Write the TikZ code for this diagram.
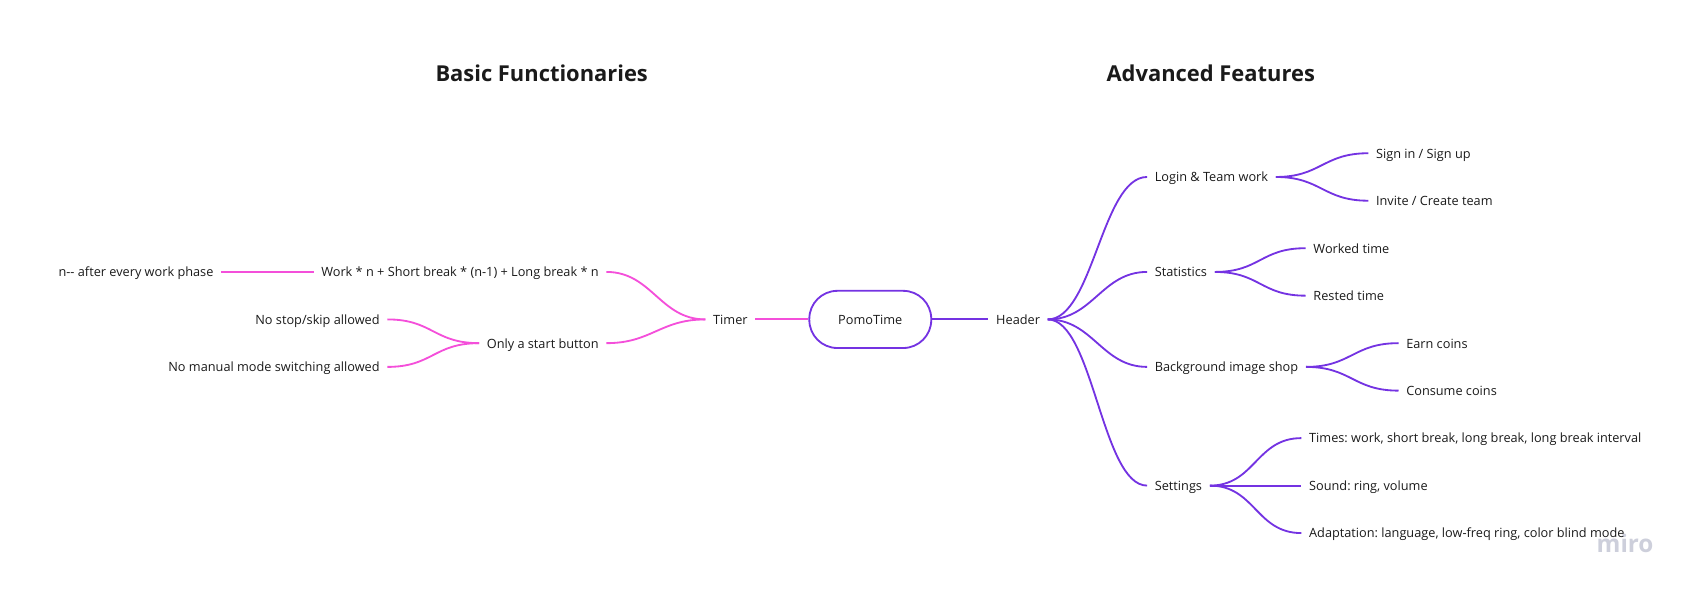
\documentclass[tikz,border=0pt]{standalone}
\usepackage{fontspec}
\setmainfont{Open Sans}
\definecolor{pinkline}{HTML}{F44FDA}
\definecolor{purpleline}{HTML}{7433E2}
\definecolor{inktext}{HTML}{1A1A1A}
\definecolor{wmark}{HTML}{CDCFDB}
\sfcode`\:=1000

\begin{document}
\begin{tikzpicture}[x=1pt,y=-1pt]
    \tikzstyle{item}=[inner xsep=7pt,inner ysep=0pt,text height=10pt,text depth=1pt,text=inktext,font=\fontsize{11.8pt}{14pt}\selectfont]
    \tikzstyle{heading}=[text=inktext,font=\fontsize{20.3pt}{24pt}\selectfont\bfseries]
    \tikzstyle{pinkedge}=[pinkline,line width=1.7pt,out=180,in=0,out distance=42pt,in distance=42pt]
    \tikzstyle{purpleedge}=[purpleline,line width=1.7pt,out=0,in=180,out distance=42pt,in distance=42pt]
    \useasboundingbox (0,0) rectangle (1568,547);
    \node[text=wmark,font=\fontsize{22.5pt}{24pt}\selectfont\bfseries] (watermark) at (1506,504) {miro};
    \node[heading] (basic) at (502,68) {Basic Functionaries};
    \node[heading] (advanced) at (1122,68) {Advanced Features};
    \node[draw=purpleline,line width=1.7pt,rounded corners=26pt,minimum width=113pt,minimum height=53pt,item] (pomo) at (806.5,296) {PomoTime};

    \node[item,anchor=east] (timer) at (700,296) {Timer};
    \node[item,anchor=east] (formula) at (562,252) {Work * n + Short break * (n-1) + Long break * n};
    \node[item,anchor=east] (startbtn) at (562,318) {Only a start button};
    \node[item,anchor=east] (decrement) at (205,252) {n-{}- after every work phase};
    \node[item,anchor=east] (nostop) at (359,296) {No stop/skip allowed};
    \node[item,anchor=east] (nomode) at (359,340) {No manual mode switching allowed};

    \node[item,anchor=west] (header) at (916,296) {Header};
    \node[item,anchor=west] (login) at (1063,164) {Login \& Team work};
    \node[item,anchor=west] (stats) at (1063,252) {Statistics};
    \node[item,anchor=west] (shop) at (1063,340) {Background image shop};
    \node[item,anchor=west] (settings) at (1063,450) {Settings};
    \node[item,anchor=west] (signin) at (1268,142) {Sign in / Sign up};
    \node[item,anchor=west] (invite) at (1268,186) {Invite / Create team};
    \node[item,anchor=west] (worked) at (1210,230) {Worked time};
    \node[item,anchor=west] (rested) at (1210,274) {Rested time};
    \node[item,anchor=west] (earn) at (1296,318) {Earn coins};
    \node[item,anchor=west] (consume) at (1296,362) {Consume coins};
    \node[item,anchor=west] (times) at (1206,406) {Times: work, short break, long break, long break interval};
    \node[item,anchor=west] (sound) at (1206,450) {Sound: ring, volume};
    \node[item,anchor=west] (adapt) at (1206,494) {Adaptation: language, low-freq ring, color blind mode};

    \draw[pinkline,line width=1.7pt] (pomo.west) -- (timer.east);
    \draw[pinkedge] (timer.west) to (formula.east);
    \draw[pinkedge] (timer.west) to (startbtn.east);
    \draw[pinkline,line width=1.7pt] (formula.west) -- (decrement.east);
    \draw[pinkedge] (startbtn.west) to (nostop.east);
    \draw[pinkedge] (startbtn.west) to (nomode.east);

    \draw[purpleline,line width=1.7pt] (pomo.east) -- (header.west);
    \foreach \child in {login,stats,shop,settings}
      \draw[purpleedge] (header.east) to (\child.west);
    \foreach \child in {signin,invite}
      \draw[purpleedge] (login.east) to (\child.west);
    \foreach \child in {worked,rested}
      \draw[purpleedge] (stats.east) to (\child.west);
    \foreach \child in {earn,consume}
      \draw[purpleedge] (shop.east) to (\child.west);
    \foreach \child in {times,sound,adapt}
      \draw[purpleedge] (settings.east) to (\child.west);
\end{tikzpicture}
\end{document}
